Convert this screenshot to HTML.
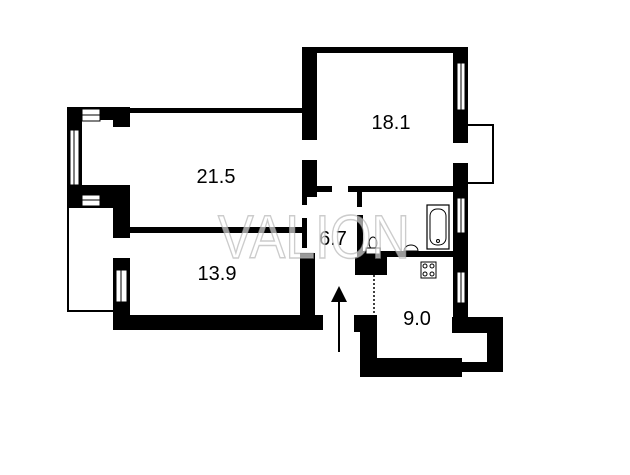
<!DOCTYPE html>
<html><head><meta charset="utf-8"><style>
html,body{margin:0;padding:0;background:#fff;}
svg{display:block;}
</style></head><body>
<svg width="630" height="475" viewBox="0 0 630 475" xmlns="http://www.w3.org/2000/svg">
<rect width="630" height="475" fill="#fff"/>
<g fill="#000">
<!-- 18.1 room -->
<rect x="302" y="47" width="166" height="6"/>
<rect x="302" y="47" width="15" height="93"/>
<rect x="453" y="47" width="15" height="96"/>
<!-- right wall segments -->
<rect x="453" y="163" width="15" height="169"/>
<!-- bay -->
<rect x="452" y="317" width="51" height="16"/>
<rect x="487" y="317" width="16" height="55"/>
<rect x="460" y="362" width="43" height="10"/>
<rect x="360" y="358" width="102" height="19"/>
<rect x="360" y="315" width="17" height="62"/>
<rect x="354" y="315" width="23" height="17"/>
<!-- corridor walls -->
<rect x="348" y="186" width="105" height="6"/>
<rect x="302" y="186" width="30" height="6"/>
<rect x="357" y="192" width="5" height="15"/>
<rect x="302" y="160" width="15" height="37"/>
<rect x="302" y="197" width="5" height="8"/>
<rect x="357" y="215" width="6" height="42"/>
<rect x="357" y="251" width="96" height="6"/>
<rect x="355" y="257" width="32" height="18"/>
<!-- left rooms -->
<rect x="130" y="108" width="172" height="5"/>
<rect x="67" y="107" width="63" height="13"/>
<rect x="113" y="107" width="17" height="20"/>
<rect x="67" y="107" width="15" height="101"/>
<rect x="67" y="185" width="63" height="23"/>
<rect x="113" y="185" width="17" height="53"/>
<rect x="130" y="227" width="172" height="6"/>
<rect x="302" y="218" width="5" height="30"/>
<rect x="113" y="258" width="17" height="72"/>
<rect x="113" y="315" width="210" height="15"/>
<rect x="300" y="253" width="15" height="77"/>
</g>
<!-- windows -->
<g fill="#fff" stroke="#000" stroke-width="1">
<rect x="457" y="63" width="8" height="47"/>
<rect x="457" y="198" width="8" height="35"/>
<rect x="457" y="272" width="8" height="31"/>
<rect x="70" y="130" width="9" height="55"/>
<rect x="82" y="109" width="18" height="12"/>
<rect x="82" y="195" width="18" height="11"/>
<rect x="116" y="270" width="11" height="32"/>
</g>
<g stroke="#000" stroke-width="1">
<line x1="461" y1="63" x2="461" y2="110"/>
<line x1="461" y1="198" x2="461" y2="233"/>
<line x1="461" y1="272" x2="461" y2="303"/>
<line x1="74" y1="130" x2="74" y2="185"/>
<line x1="82" y1="115" x2="100" y2="115"/>
<line x1="82" y1="200" x2="100" y2="200"/>
<line x1="121" y1="270" x2="121" y2="302"/>
</g>
<!-- balconies -->
<g fill="none" stroke="#000" stroke-width="2">
<polyline points="468,125 493,125 493,183 468,183"/>
<polyline points="68,208 68,311 113,311"/>
</g>
<!-- fixtures -->
<rect x="427" y="205" width="22" height="44" fill="#fff" stroke="#000" stroke-width="1.2"/>
<rect x="430" y="209" width="16" height="36" rx="7" fill="#fff" stroke="#000" stroke-width="1"/>
<circle cx="438" cy="241" r="1.5" fill="none" stroke="#000"/>
<rect x="421" y="262" width="15" height="16" fill="#fff" stroke="#000" stroke-width="1"/>
<g fill="none" stroke="#000" stroke-width="1"><circle cx="425" cy="266" r="2"/><circle cx="432" cy="266" r="2"/><circle cx="425" cy="274" r="2"/><circle cx="432" cy="274" r="2"/></g>
<ellipse cx="373" cy="243" rx="4" ry="6" fill="#fff" stroke="#000"/>
<rect x="366" y="248" width="14" height="6" fill="#fff" stroke="#000"/>
<path d="M404 251 A7 6 0 0 1 418 251 Z" fill="#fff" stroke="#000"/>
<line x1="374" y1="275" x2="374" y2="315" stroke="#000" stroke-width="1.5" stroke-dasharray="2,2"/>
<!-- arrow -->
<line x1="339" y1="352" x2="339" y2="295" stroke="#000" stroke-width="2"/>
<polygon points="339,286 331,302 347,302" fill="#000"/>
<!-- labels -->
<g font-family="Liberation Sans, sans-serif" font-size="20" fill="#000" text-anchor="middle">
<text x="216" y="183">21.5</text>
<text x="391" y="129">18.1</text>
<text x="217" y="280">13.9</text>
<text x="333" y="245">6.7</text>
<text x="417" y="325">9.0</text>
</g>
<text x="218" y="258" textLength="192" lengthAdjust="spacingAndGlyphs" font-family="Liberation Sans, sans-serif" font-size="61" fill="rgba(255,255,255,0.6)" stroke="rgba(170,170,170,0.6)" stroke-width="1.5">VALION</text>
</svg>
</body></html>
